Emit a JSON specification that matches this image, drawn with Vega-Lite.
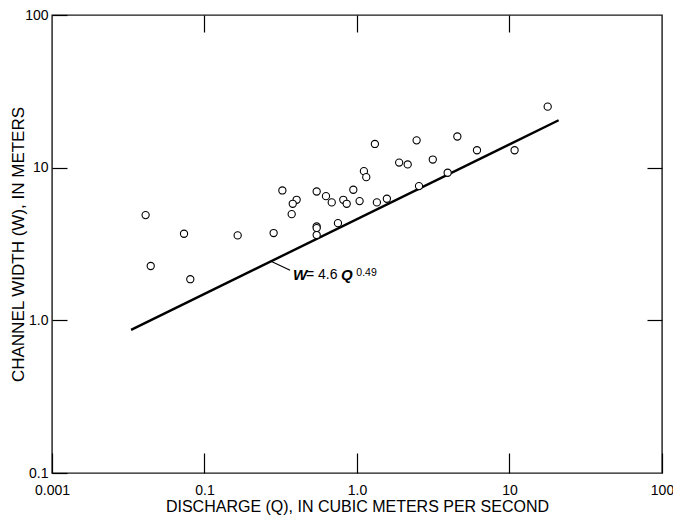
{
  "$schema": "https://vega.github.io/schema/vega-lite/v6.json",
  "width": 610,
  "height": 458,
  "autosize": {"type": "none"},
  "padding": {"left": 52, "top": 15, "right": 11, "bottom": 46},
  "background": "white",
  "config": {
    "view": {"stroke": "#1a1a1a", "strokeWidth": 1.4},
    "font": "Liberation Sans"
  },
  "datasets": {
    "sites": [
      {"q": 17.8, "w": 25.1},
      {"q": 1.31, "w": 14.3},
      {"q": 2.46, "w": 15.1},
      {"q": 4.55, "w": 16.0},
      {"q": 6.12, "w": 13.0},
      {"q": 10.8, "w": 13.0},
      {"q": 1.89, "w": 10.8},
      {"q": 2.15, "w": 10.5},
      {"q": 3.14, "w": 11.3},
      {"q": 1.11, "w": 9.49},
      {"q": 1.15, "w": 8.67},
      {"q": 3.93, "w": 9.26},
      {"q": 2.55, "w": 7.57},
      {"q": 0.324, "w": 7.09},
      {"q": 0.544, "w": 6.98},
      {"q": 0.946, "w": 7.17},
      {"q": 0.626, "w": 6.51},
      {"q": 0.683, "w": 5.92},
      {"q": 0.402, "w": 6.16},
      {"q": 0.379, "w": 5.8},
      {"q": 0.813, "w": 6.16},
      {"q": 0.856, "w": 5.8},
      {"q": 1.04, "w": 6.04},
      {"q": 1.35, "w": 5.92},
      {"q": 1.57, "w": 6.26},
      {"q": 0.373, "w": 4.96},
      {"q": 0.544, "w": 4.12},
      {"q": 0.544, "w": 4.02},
      {"q": 0.544, "w": 3.62},
      {"q": 0.75, "w": 4.33},
      {"q": 0.284, "w": 3.73},
      {"q": 0.0411, "w": 4.89},
      {"q": 0.0734, "w": 3.69},
      {"q": 0.165, "w": 3.6},
      {"q": 0.0444, "w": 2.27},
      {"q": 0.0807, "w": 1.86}
    ],
    "fit": [
      {"q": 0.033, "w": 0.865},
      {"q": 21, "w": 20.45}
    ]
  },
  "resolve": {"axis": {"x": "independent", "y": "independent"}},
  "layer": [
    {
      "data": {"name": "fit"},
      "mark": {"type": "line", "color": "black", "strokeWidth": 2.4},
      "encoding": {
        "x": {
          "field": "q", "type": "quantitative",
          "scale": {"type": "log", "domain": [0.01, 100], "nice": false},
          "axis": {
            "orient": "bottom",
            "values": [0.01, 0.1, 1, 10, 100],
            "labelExpr": "datum.value < 0.05 ? '0.001' : (datum.value >= 10 ? format(datum.value, 'd') : format(datum.value, '.1f'))",
            "domain": false, "grid": false,
            "tickSize": -20, "tickColor": "black", "tickWidth": 1.2,
            "labelFont": "Liberation Sans", "labelFontSize": 14, "labelColor": "black",
            "labelPadding": 30, "labelFlush": false, "labelOverlap": false,
            "title": "DISCHARGE (Q), IN CUBIC METERS PER SECOND",
            "titleFont": "Liberation Sans", "titleFontSize": 16, "titleFontWeight": "normal",
            "titleColor": "black", "titlePadding": 1
          }
        },
        "y": {
          "field": "w", "type": "quantitative",
          "scale": {"type": "log", "domain": [0.1, 100], "nice": false},
          "axis": {
            "orient": "left",
            "values": [0.1, 1, 10, 100],
            "labelExpr": "datum.value >= 10 ? format(datum.value, 'd') : format(datum.value, '.1f')",
            "domain": false, "grid": false,
            "tickSize": -15, "tickColor": "black", "tickWidth": 1.2,
            "labelFont": "Liberation Sans", "labelFontSize": 14, "labelColor": "black",
            "labelPadding": 19, "labelFlush": false, "labelOverlap": false,
            "title": "CHANNEL WIDTH (W), IN METERS",
            "titleFont": "Liberation Sans", "titleFontSize": 17, "titleFontWeight": "normal",
            "titleColor": "black", "titlePadding": -3
          }
        }
      }
    },
    {
      "data": {"name": "sites"},
      "mark": {"type": "point", "shape": "circle", "filled": false, "fill": "white", "fillOpacity": 1, "stroke": "black", "strokeWidth": 1.1, "size": 52, "opacity": 1},
      "encoding": {
        "x": {
          "field": "q", "type": "quantitative",
          "axis": {
            "orient": "top", "values": [0.1, 1, 10], "labels": false,
            "domain": false, "grid": false, "title": null,
            "tickSize": -17, "tickColor": "black", "tickWidth": 1.2
          }
        },
        "y": {
          "field": "w", "type": "quantitative",
          "axis": {
            "orient": "right", "values": [1, 10], "labels": false,
            "domain": false, "grid": false, "title": null,
            "tickSize": -15, "tickColor": "black", "tickWidth": 1.2
          }
        }
      }
    },
    {
      "data": {"values": [{"q": 0.273, "w": 2.44, "q2": 0.364, "w2": 2.13}]},
      "mark": {"type": "rule", "color": "black", "strokeWidth": 1.2},
      "encoding": {
        "x": {"field": "q", "type": "quantitative", "axis": null},
        "y": {"field": "w", "type": "quantitative", "axis": null},
        "x2": {"field": "q2"},
        "y2": {"field": "w2"}
      }
    },
    {
      "data": {"values": [{"q": 0.38, "w": 1.97, "label": "W"}, {"q": 0.785, "w": 1.97, "label": "Q"}]},
      "mark": {"type": "text", "align": "left", "baseline": "middle", "font": "Liberation Sans", "fontSize": 15, "fontWeight": "bold", "fontStyle": "italic", "color": "black"},
      "encoding": {
        "x": {"field": "q", "type": "quantitative", "axis": null},
        "y": {"field": "w", "type": "quantitative", "axis": null},
        "text": {"field": "label"}
      }
    },
    {
      "data": {"values": [{"q": 0.463, "w": 1.97, "label": "= 4.6"}]},
      "mark": {"type": "text", "align": "left", "baseline": "middle", "font": "Liberation Sans", "fontSize": 14, "color": "black"},
      "encoding": {
        "x": {"field": "q", "type": "quantitative", "axis": null},
        "y": {"field": "w", "type": "quantitative", "axis": null},
        "text": {"field": "label"}
      }
    },
    {
      "data": {"values": [{"q": 0.99, "w": 2.05, "label": "0.49"}]},
      "mark": {"type": "text", "align": "left", "baseline": "middle", "font": "Liberation Sans", "fontSize": 10.5, "color": "black"},
      "encoding": {
        "x": {"field": "q", "type": "quantitative", "axis": null},
        "y": {"field": "w", "type": "quantitative", "axis": null},
        "text": {"field": "label"}
      }
    }
  ]
}
